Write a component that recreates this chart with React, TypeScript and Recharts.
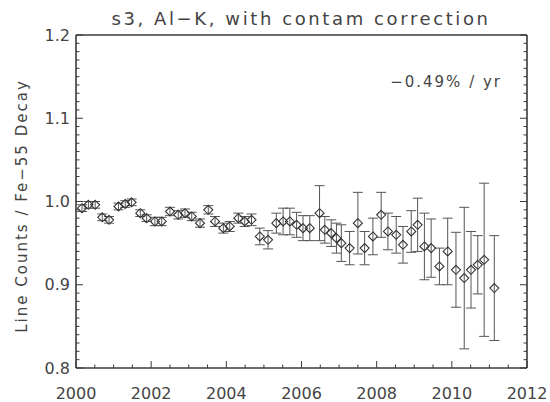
import React from 'react';
import { ScatterChart, Scatter, XAxis, YAxis, ErrorBar } from 'recharts';

const years = [2000.16, 2000.33, 2000.51, 2000.70, 2000.88, 2001.13, 2001.31, 2001.48, 2001.71, 2001.88, 2002.10, 2002.28, 2002.50, 2002.72, 2002.90, 2003.08, 2003.30, 2003.52, 2003.70, 2003.92, 2004.09, 2004.32, 2004.49, 2004.67, 2004.89, 2005.11, 2005.33, 2005.51, 2005.69, 2005.87, 2006.04, 2006.22, 2006.48, 2006.62, 2006.79, 2006.93, 2007.06, 2007.28, 2007.50, 2007.68, 2007.90, 2008.12, 2008.30, 2008.52, 2008.70, 2008.92, 2009.09, 2009.27, 2009.45, 2009.67, 2009.89, 2010.11, 2010.33, 2010.51, 2010.69, 2010.86, 2011.13];
const ratios = [0.992, 0.996, 0.996, 0.981, 0.978, 0.994, 0.997, 0.999, 0.986, 0.980, 0.976, 0.976, 0.988, 0.984, 0.986, 0.982, 0.974, 0.990, 0.976, 0.968, 0.970, 0.980, 0.976, 0.978, 0.958, 0.954, 0.974, 0.976, 0.976, 0.972, 0.968, 0.968, 0.986, 0.966, 0.962, 0.956, 0.950, 0.944, 0.974, 0.944, 0.958, 0.984, 0.964, 0.960, 0.948, 0.964, 0.972, 0.946, 0.944, 0.922, 0.940, 0.918, 0.908, 0.918, 0.924, 0.930, 0.896];
const errors = [0.004, 0.004, 0.004, 0.004, 0.004, 0.004, 0.004, 0.004, 0.004, 0.004, 0.005, 0.005, 0.005, 0.005, 0.005, 0.005, 0.005, 0.005, 0.006, 0.006, 0.006, 0.006, 0.006, 0.007, 0.010, 0.011, 0.012, 0.016, 0.016, 0.015, 0.015, 0.015, 0.033, 0.016, 0.016, 0.018, 0.022, 0.020, 0.037, 0.020, 0.022, 0.027, 0.022, 0.022, 0.022, 0.025, 0.032, 0.040, 0.035, 0.022, 0.040, 0.045, 0.085, 0.046, 0.035, 0.092, 0.063];

const xMajorTicks = [2000, 2002, 2004, 2006, 2008, 2010, 2012];
const yMajorTicks = [0.8, 0.9, 1.0, 1.1, 1.2];
const xAllTicks = Array.from({ length: 25 }, (_, i) => 2000 + i * 0.5);
const yAllTicks = Array.from({ length: 41 }, (_, i) => Math.round((0.8 + i * 0.01) * 100) / 100);

const titleText = 's3, Al\u2212K, with contam correction';
const yLabelText = 'Line Counts / Fe\u221255 Decay';
const rateText = '\u22120.49% / yr';

const data = years.map((t, i) => ({ t, v: ratios[i], err: errors[i] }));

const AX = '#3a3a3a';
const TXT = '#444';
const FONT = '"DejaVu Sans", sans-serif';

const isMajor = (v: number, majors: number[]) => majors.some((m) => Math.abs(m - v) < 1e-6);

const BottomTick = (p: any) => {
  const major = isMajor(p.payload.value, xMajorTicks);
  return (
    <g>
      <line x1={p.x} y1={p.y} x2={p.x} y2={p.y - (major ? 7 : 3.5)} stroke={AX} strokeWidth={1} />
      {major && (
        <text x={p.x} y={p.y + 31} textAnchor="middle" fontSize={16} fill={TXT} fontFamily={FONT}>
          {String(p.payload.value)}
        </text>
      )}
    </g>
  );
};
const TopTick = (p: any) => {
  const major = isMajor(p.payload.value, xMajorTicks);
  return <line x1={p.x} y1={p.y} x2={p.x} y2={p.y + (major ? 7 : 3.5)} stroke={AX} strokeWidth={1} />;
};
const LeftTick = (p: any) => {
  const major = isMajor(p.payload.value, yMajorTicks);
  return (
    <g>
      <line x1={p.x} y1={p.y} x2={p.x + (major ? 7 : 3.5)} y2={p.y} stroke={AX} strokeWidth={1} />
      {major && (
        <text x={p.x - 6} y={p.y + 5.5} textAnchor="end" fontSize={16} fill={TXT} fontFamily={FONT}>
          {Number(p.payload.value).toFixed(1)}
        </text>
      )}
    </g>
  );
};
const RightTick = (p: any) => {
  const major = isMajor(p.payload.value, yMajorTicks);
  return <line x1={p.x} y1={p.y} x2={p.x - (major ? 7 : 3.5)} y2={p.y} stroke={AX} strokeWidth={1} />;
};

const Diamond = (p: any) => {
  const { cx, cy } = p;
  if (cx == null || cy == null) return null;
  const r = 4.5;
  return (
    <polygon
      points={`${cx},${cy - r} ${cx + r},${cy} ${cx},${cy + r} ${cx - r},${cy}`}
      fill="none"
      stroke="#333"
      strokeWidth={1.1}
    />
  );
};

export default function App() {
  return (
    <div style={{ position: 'absolute', left: 0, top: 0, width: 550, height: 402, background: '#fff' }}>
      <ScatterChart width={550} height={402} margin={{ top: 34, right: 22, bottom: 33, left: 75 }}>
        <text x={301} y={25} textAnchor="middle" fontSize={18} letterSpacing={2.6} fill={TXT} fontFamily={FONT}>
          {titleText}
        </text>
        <text x={502} y={87} textAnchor="end" fontSize={15} letterSpacing={2} fill={TXT} fontFamily={FONT}>
          {rateText}
        </text>
        <text
          x={27}
          y={206}
          transform="rotate(-90 27 206)"
          textAnchor="middle"
          fontSize={15}
          letterSpacing={2}
          fill={TXT}
          fontFamily={FONT}
        >
          {yLabelText}
        </text>
        <XAxis
          xAxisId="b"
          dataKey="t"
          type="number"
          domain={[2000, 2012]}
          ticks={xAllTicks}
          interval={0}
          allowDataOverflow
          height={1}
          tickSize={0}
          tickMargin={0}
          tickLine={false}
          axisLine={{ stroke: AX, strokeWidth: 1.6 }}
          tick={<BottomTick />}
        />
        <XAxis
          xAxisId="top"
          orientation="top"
          type="number"
          domain={[2000, 2012]}
          ticks={xAllTicks}
          interval={0}
          allowDataOverflow
          height={1}
          tickSize={0}
          tickMargin={0}
          tickLine={false}
          axisLine={{ stroke: AX, strokeWidth: 1.6 }}
          tick={<TopTick />}
        />
        <YAxis
          yAxisId="l"
          dataKey="v"
          type="number"
          domain={[0.8, 1.2]}
          ticks={yAllTicks}
          interval={0}
          allowDataOverflow
          width={1}
          tickSize={0}
          tickMargin={0}
          tickLine={false}
          axisLine={{ stroke: AX, strokeWidth: 1.6 }}
          tick={<LeftTick />}
        />
        <YAxis
          yAxisId="r"
          orientation="right"
          type="number"
          domain={[0.8, 1.2]}
          ticks={yAllTicks}
          interval={0}
          allowDataOverflow
          width={1}
          tickSize={0}
          tickMargin={0}
          tickLine={false}
          axisLine={{ stroke: AX, strokeWidth: 1.6 }}
          tick={<RightTick />}
        />
        <Scatter data={data} xAxisId="b" yAxisId="l" shape={<Diamond />} isAnimationActive={false}>
          <ErrorBar dataKey="err" direction="y" width={5} stroke="#555" strokeWidth={1} isAnimationActive={false} />
        </Scatter>
      </ScatterChart>
    </div>
  );
}
